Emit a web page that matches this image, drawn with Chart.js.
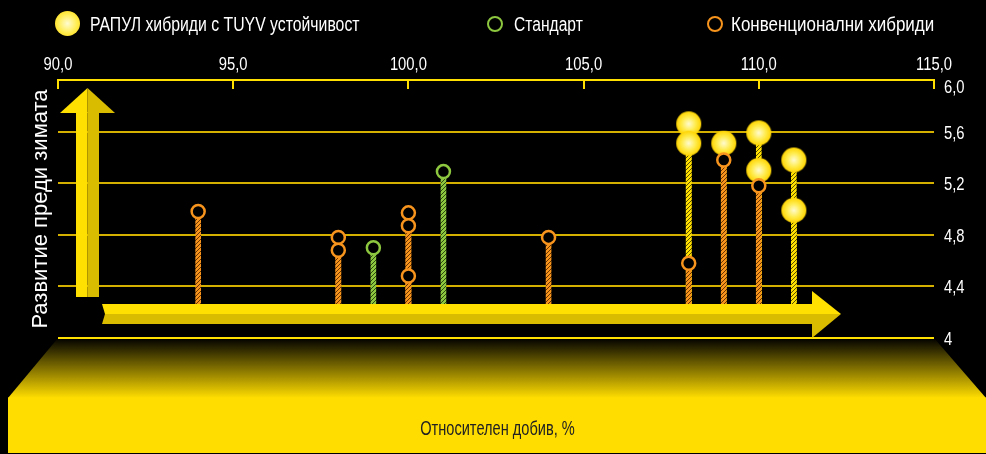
<!DOCTYPE html>
<html>
<head>
<meta charset="utf-8">
<script src="https://cdn.jsdelivr.net/npm/chart.js@4.4.0/dist/chart.umd.min.js"></script>
<style>
  html, body { margin:0; padding:0; background:#000; }
  #wrap { position:relative; width:986px; height:454px; overflow:hidden;
          font-family:"Liberation Sans",Arial,sans-serif; }
  #wrap canvas { position:absolute; left:0; top:0; }
  .lg { position:absolute; top:12px; color:#fff; font-size:19.5px; line-height:24px; white-space:nowrap;
        transform-origin:left center; }
  .mk { position:absolute; border-radius:50%; box-sizing:border-box; }
  #ytitle { position:absolute; left:-90px; top:197px; width:260px; height:24px; line-height:24px;
            text-align:center; color:#fff; font-size:22px;
            transform:rotate(-90deg); white-space:nowrap; }
  #xtitle { position:absolute; left:0; top:416px; width:995px; line-height:24px; text-align:center;
            color:#222; font-size:20px; transform:scaleX(0.73); }
</style>
</head>
<body>
<div id="wrap">
  <canvas id="chart" width="986" height="454"></canvas>
  <div class="mk" style="left:55px;top:11px;width:25px;height:25px;background:radial-gradient(circle,#fffbd0 0%,#ffec4d 55%,#ffd400 100%)"></div>
  <div class="lg" id="lg0" style="left:90px;transform:scaleX(0.81)"></div>
  <div class="mk" style="left:487px;top:16px;width:16px;height:16px;border:2.5px solid #8dc63f"></div>
  <div class="lg" id="lg1" style="left:514px;transform:scaleX(0.80)"></div>
  <div class="mk" style="left:707px;top:16px;width:16px;height:16px;border:2.5px solid #f7941d"></div>
  <div class="lg" id="lg2" style="left:731px;transform:scaleX(0.87)"></div>
  <div id="ytitle"></div>
  <div id="xtitle"></div>
</div>
<script>
// series: relative yield (x, %) and development before winter (y)
const rapulX = [108, 108, 109, 110, 110, 111, 111];
const rapulY = [5.66, 5.51, 5.51, 5.59, 5.30, 5.38, 4.99];
const standardX = [99, 101];
const standardY = [4.70, 5.29];
const convX = [94, 98, 98, 100, 100, 100, 104, 108, 109, 110];
const convY = [4.98, 4.78, 4.68, 4.97, 4.87, 4.48, 4.78, 4.58, 5.38, 5.18];
const stemBase = 4.2;

const legendLabels = ['РАПУЛ хибриди с TUYV устойчивост', 'Стандарт', 'Конвенционални хибриди'];
const xTitle = 'Относителен добив, %';
const yTitle = 'Развитие преди зимата';
const xMin = 90, xMax = 115, xStep = 5;
const yMin = 4, yMax = 6, yStep = 0.4;

document.getElementById('lg0').textContent = legendLabels[0];
document.getElementById('lg1').textContent = legendLabels[1];
document.getElementById('lg2').textContent = legendLabels[2];
document.getElementById('xtitle').textContent = xTitle;
document.getElementById('ytitle').textContent = yTitle;

const canvas = document.getElementById('chart');
const ctx = canvas.getContext('2d');
const FONT = "'Liberation Sans',Arial,sans-serif";
const SQUEEZE = 0.8;   // the original uses a condensed face
const comma = v => v.toFixed(1).replace('.', ',');

function hatch(base, dark){
  const c = document.createElement('canvas'); c.width = 4; c.height = 4;
  const g = c.getContext('2d');
  g.fillStyle = base; g.fillRect(0, 0, 4, 4);
  g.strokeStyle = dark; g.lineWidth = 1;
  g.beginPath();
  g.moveTo(0, 4); g.lineTo(4, 0);
  g.moveTo(-1, 1); g.lineTo(1, -1);
  g.moveTo(3, 5); g.lineTo(5, 3);
  g.stroke();
  return ctx.createPattern(c, 'repeat');
}

function ball(r){
  const c = document.createElement('canvas'); c.width = c.height = 2 * r + 2;
  const g = c.getContext('2d'); const m = r + 1;
  const gr = g.createRadialGradient(m, m, 0, m, m, r);
  gr.addColorStop(0, '#fffbd0'); gr.addColorStop(0.55, '#ffec4d'); gr.addColorStop(1, '#ffd400');
  g.fillStyle = gr; g.beginPath(); g.arc(m, m, r, 0, Math.PI * 2); g.fill();
  return c;
}

const pts = (xs, ys) => xs.map((x, i) => ({x, y: ys[i]}));
const stems = (xs, ys) => xs.map((x, i) => ({x, y: [stemBase, ys[i]]}));

const BRIGHT = '#ffe000', DARK = '#d9bc00';

const deco = {
  id: 'deco',
  beforeDraw(chart){
    const a = chart.chartArea, c = chart.ctx;
    const mid = 398, bot = 453;
    c.save();
    const gr = c.createLinearGradient(0, a.bottom, 0, mid);
    gr.addColorStop(0, '#000'); gr.addColorStop(1, '#ffdd00');
    c.fillStyle = gr;
    c.beginPath();
    c.moveTo(a.left, a.bottom); c.lineTo(a.right, a.bottom);
    c.lineTo(986, mid); c.lineTo(8, mid); c.closePath(); c.fill();
    c.fillStyle = '#ffdd00';
    c.fillRect(8, mid - 0.5, 978, bot - mid + 0.5);
    c.restore();
  },
  beforeDatasetsDraw(chart){
    const a = chart.chartArea, c = chart.ctx, sx = chart.scales.x;
    c.save();
    c.strokeStyle = BRIGHT; c.lineWidth = 2;
    sx.ticks.forEach(t => {
      const px = Math.round(sx.getPixelForValue(t.value));
      c.beginPath(); c.moveTo(px, a.top); c.lineTo(px, a.top + 9); c.stroke();
    });
    c.restore();
  },
  afterDatasetsDraw(chart){
    const c = chart.ctx;
    c.save();
    // vertical arrow
    c.fillStyle = BRIGHT; c.fillRect(76, 112, 11.5, 185);
    c.fillStyle = DARK; c.fillRect(87.5, 112, 11.5, 185);
    c.fillStyle = BRIGHT;
    c.beginPath(); c.moveTo(60, 113); c.lineTo(87.5, 88); c.lineTo(87.5, 113); c.closePath(); c.fill();
    c.fillStyle = DARK;
    c.beginPath(); c.moveTo(87.5, 113); c.lineTo(87.5, 88); c.lineTo(115, 113); c.closePath(); c.fill();
    // horizontal arrow
    c.fillStyle = BRIGHT;
    c.beginPath(); c.moveTo(102, 304); c.lineTo(813, 304); c.lineTo(813, 314); c.lineTo(105, 314); c.closePath(); c.fill();
    c.fillStyle = DARK;
    c.beginPath(); c.moveTo(105, 314); c.lineTo(813, 314); c.lineTo(813, 324); c.lineTo(102, 324); c.closePath(); c.fill();
    c.fillStyle = BRIGHT;
    c.beginPath(); c.moveTo(812, 291); c.lineTo(841, 314); c.lineTo(812, 314); c.closePath(); c.fill();
    c.fillStyle = DARK;
    c.beginPath(); c.moveTo(812, 314); c.lineTo(841, 314); c.lineTo(812, 338); c.closePath(); c.fill();
    c.restore();
  },
  afterDraw(chart){
    // tick labels, squeezed horizontally to imitate the condensed face
    const c = chart.ctx, a = chart.chartArea, sx = chart.scales.x, sy = chart.scales.y;
    c.save();
    c.fillStyle = '#fff';
    c.font = '18.5px ' + FONT;
    c.textBaseline = 'alphabetic';
    sx.ticks.forEach(t => {
      const px = sx.getPixelForValue(t.value);
      c.save(); c.translate(px, 70); c.scale(SQUEEZE, 1);
      c.textAlign = 'center'; c.fillText(t.label, 0, 0); c.restore();
    });
    sy.ticks.forEach(t => {
      const py = Math.max(sy.getPixelForValue(t.value) + 7, a.top + 13);
      c.save(); c.translate(a.right + 10, py); c.scale(SQUEEZE, 1);
      c.textAlign = 'left'; c.fillText(t.label, 0, 0); c.restore();
    });
    c.restore();
  }
};

new Chart(ctx, {
  type: 'bar',
  data: {
    datasets: [
      {type:'scatter', label: legendLabels[2], data: pts(convX, convY), showLine:false,
       pointRadius:6.5, pointBorderWidth:2.5, pointBorderColor:'#f7941d', pointBackgroundColor:'#000'},
      {type:'scatter', label: legendLabels[1], data: pts(standardX, standardY), showLine:false,
       pointRadius:6.5, pointBorderWidth:2.5, pointBorderColor:'#8dc63f', pointBackgroundColor:'#000'},
      {type:'scatter', label: legendLabels[0], data: pts(rapulX, rapulY), showLine:false,
       pointStyle: ball(12.5), pointRadius:12.5},
      {type:'bar', data: stems(convX, convY), backgroundColor: hatch('#f7941d', '#6b3500'),
       barThickness:5, grouped:false, borderWidth:0},
      {type:'bar', data: stems(standardX, standardY), backgroundColor: hatch('#8dc63f', '#2f4a10'),
       barThickness:5, grouped:false, borderWidth:0},
      {type:'bar', data: stems(rapulX, rapulY), backgroundColor: hatch('#ffe000', '#5a4e00'),
       barThickness:5, grouped:false, borderWidth:0}
    ]
  },
  options: {
    responsive:false,
    devicePixelRatio:1,
    animation:false,
    events:[],
    layout:{ padding:{ left:58, right:0, top:0, bottom:116 } },
    plugins:{ legend:{ display:false }, tooltip:{ enabled:false } },
    scales:{
      x:{
        type:'linear', position:'top', min:xMin, max:xMax, offset:false,
        afterFit: s => { s.height = 80; },
        ticks:{ display:false, stepSize:xStep, callback: v => comma(v) },
        grid:{ display:false, drawTicks:false },
        border:{ display:true, color:BRIGHT, width:2 }
      },
      y:{
        type:'linear', position:'right', min:yMin, max:yMax,
        afterFit: s => { s.width = 52; },
        ticks:{ display:false, stepSize:yStep,
                callback: v => Math.abs(v - 4) < 1e-9 ? '4' : comma(v) },
        grid:{ drawTicks:false, lineWidth:2,
               color: c => (c.tick && (Math.abs(c.tick.value - 4) < 1e-9 || Math.abs(c.tick.value - 6) < 1e-9)) ? BRIGHT : '#d4b000' },
        border:{ display:false }
      }
    }
  },
  plugins:[deco]
});
</script>
</body>
</html>
